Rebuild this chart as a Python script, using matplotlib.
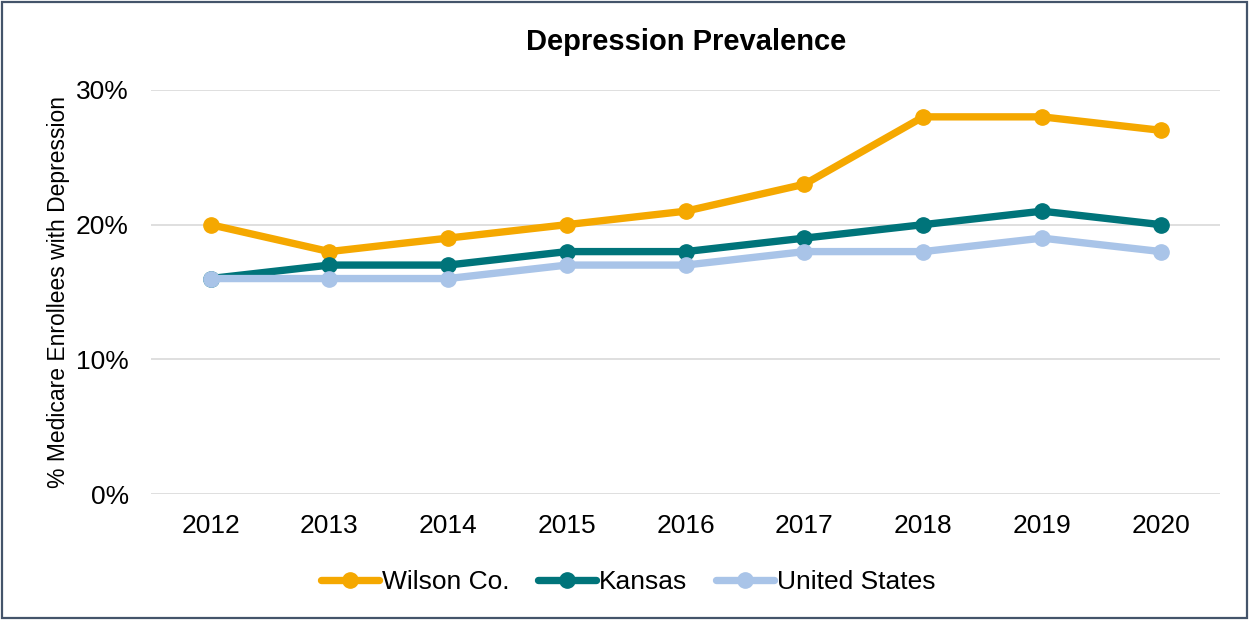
import matplotlib.pyplot as plt
from matplotlib.patches import Rectangle
from matplotlib.ticker import FuncFormatter

years = [2012, 2013, 2014, 2015, 2016, 2017, 2018, 2019, 2020]
wilson = [20, 18, 19, 20, 21, 23, 28, 28, 27]
kansas = [16, 17, 17, 18, 18, 19, 20, 21, 20]
united_states = [16, 16, 16, 17, 17, 18, 18, 19, 18]

plt.rcParams['font.family'] = ['Liberation Sans', 'DejaVu Sans']

fig = plt.figure(figsize=(12.49, 6.2), dpi=100)
ax = fig.add_axes([0.121, 0.203, 0.856, 0.652])

series = [
    (wilson, 'Wilson Co.', '#F5A800'),
    (kansas, 'Kansas', '#00747A'),
    (united_states, 'United States', '#A9C4E8'),
]
for vals, name, color in series:
    ax.plot(years, vals, color=color, lw=5.3, marker='o', ms=11,
            solid_capstyle='round', label=name)

ax.set_ylim(0, 30)
ax.set_yticks([0, 10, 20, 30])
ax.yaxis.set_major_formatter(FuncFormatter(lambda v, p: f'{v:.0f}%'))
ax.set_xlim(2011.5, 2020.5)
ax.set_xticks(years)
ax.grid(axis='y', color='#D9D9D9', lw=1.2)
ax.set_axisbelow(True)
for s in ax.spines.values():
    s.set_visible(False)
ax.tick_params(length=0, labelsize=19)
ax.tick_params(axis='y', pad=16)
ax.tick_params(axis='x', pad=14)

ax.set_ylabel('% Medicare Enrollees with Depression', fontsize=16.5, labelpad=4)
ax.set_title('Depression Prevalence', fontsize=21, fontweight='bold', pad=29)

# legend sits centred on the whole figure, below the axes
fig.legend(*ax.get_legend_handles_labels(), loc='upper center',
           bbox_to_anchor=(0.503, 0.119), ncol=3, frameon=False, fontsize=19,
           handlelength=2.2, handletextpad=0.1, columnspacing=1.1)

fig.patches.append(Rectangle((0.002, 0.003), 0.996, 0.994, transform=fig.transFigure,
                             fill=False, edgecolor='#44546A', lw=1.6))

fig.savefig('out.png', dpi=100)
